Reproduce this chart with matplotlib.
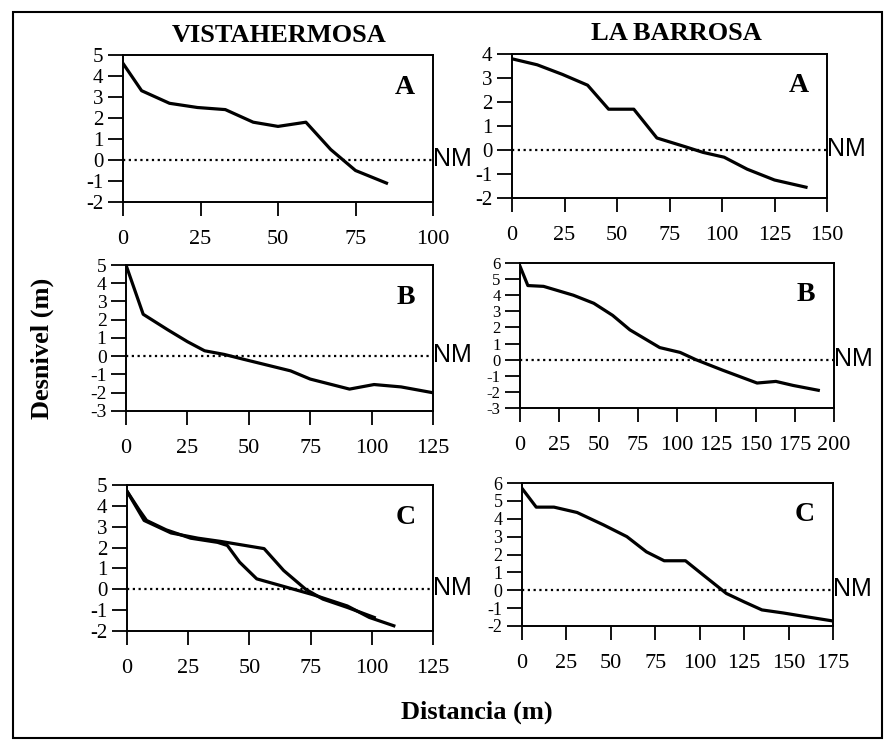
import numpy as np
import matplotlib.pyplot as plt
from matplotlib.patches import Rectangle

# Perfiles de playa: Vistahermosa (izq.) y La Barrosa (der.)

# Vistahermosa A
va_x = [0, 6, 15, 24, 33, 42, 50, 59, 67, 75, 85]
va_y = [4.6, 3.3, 2.7, 2.5, 2.4, 1.8, 1.6, 1.8, 0.5, -0.5, -1.1]

# La Barrosa A
la_x = [0, 12, 24, 36, 46, 58, 69, 82, 91, 101, 112, 125, 140]
la_y = [3.8, 3.55, 3.15, 2.7, 1.7, 1.7, 0.5, 0.15, -0.1, -0.3, -0.8, -1.25, -1.55]

# Vistahermosa B
vb_x = [0, 7, 17, 25, 32, 40, 48, 67, 75, 91, 101, 112, 125]
vb_y = [5.0, 2.3, 1.45, 0.8, 0.3, 0.1, -0.17, -0.8, -1.25, -1.8, -1.55, -1.68, -2.0]

# La Barrosa B
lb_x = [0, 5, 15, 34, 47, 59, 70, 89, 102, 112, 129, 151, 163, 174, 190]
lb_y = [5.8, 4.6, 4.55, 4.0, 3.5, 2.75, 1.85, 0.75, 0.45, 0.0, -0.65, -1.45, -1.35, -1.6, -1.9]

# Vistahermosa C (dos perfiles)
vc1_x = [0, 5, 8, 16, 26, 37, 41, 46, 53, 63, 76, 90, 99, 109]
vc1_y = [4.7, 3.8, 3.3, 2.85, 2.45, 2.25, 2.1, 1.3, 0.5, 0.17, -0.26, -0.8, -1.35, -1.75]
vc2_x = [0, 7, 18, 29, 38, 56, 64, 73, 80, 90, 101]
vc2_y = [4.7, 3.3, 2.7, 2.45, 2.3, 1.95, 0.9, 0.0, -0.47, -0.87, -1.35]

# La Barrosa C
lc_x = [0, 8, 18, 31, 46, 59, 70, 80, 92, 102, 115, 125, 135, 147, 158, 175]
lc_y = [5.7, 4.65, 4.65, 4.35, 3.65, 3.0, 2.15, 1.65, 1.65, 0.85, -0.18, -0.65, -1.1, -1.27, -1.45, -1.72]

W, H = 890, 743
serif = 'Liberation Serif'
plt.rcParams['axes.unicode_minus'] = False

fig = plt.figure(figsize=(W / 100, H / 100), dpi=100)

def panel(box, xs, ys, xmax, xstep, ymin, ymax, letter, ysize=15):
    l, t, r, b = box
    ax = fig.add_axes([l / W, 1 - b / H, (r - l) / W, (b - t) / H])
    for x, y in zip(xs, ys):
        ax.plot(x, y, color='black', lw=2.3, solid_joinstyle='round')
    ax.plot([0, xmax], [0, 0], color='black', lw=1.6, linestyle=(0, (1, 1.6)))
    ax.set_xlim(0, xmax)
    ax.set_ylim(ymin, ymax)
    ax.set_xticks(np.arange(0, xmax + 1, xstep))
    ax.set_yticks(np.arange(ymin, ymax + 1, 1))
    ax.tick_params(axis='x', direction='out', length=10, width=1.3, pad=10,
                   labelsize=16)
    ax.tick_params(axis='y', direction='out', length=11, width=1.3, pad=3,
                   labelsize=ysize)
    for lab in ax.get_xticklabels() + ax.get_yticklabels():
        lab.set_family(serif)
    for s in ax.spines.values():
        s.set_linewidth(1.4)
    ax.text(0.91, 0.78, letter, transform=ax.transAxes, ha='center', va='center',
            fontsize=20, fontweight='bold', family=serif)
    ax.text(xmax, 0.05, 'NM', ha='left', va='center', fontsize=18,
            family='Liberation Sans', clip_on=False)
    return ax

panel((123, 55, 433, 202), [va_x], [va_y], 100, 25, -2, 5, 'A')
panel((512, 54, 827, 198), [la_x], [la_y], 150, 25, -2, 4, 'A')
panel((126, 265, 433, 411), [vb_x], [vb_y], 125, 25, -3, 5, 'B', ysize=14)
panel((520, 263, 834, 408), [lb_x], [lb_y], 200, 25, -3, 6, 'B', ysize=12)
panel((127, 485, 433, 631), [vc1_x, vc2_x], [vc1_y, vc2_y], 125, 25, -2, 5, 'C')
panel((522, 483, 833, 626), [lc_x], [lc_y], 175, 25, -2, 6, 'C', ysize=13)

# titulos y ejes comunes
fig.text(279 / W, 1 - 35 / H, 'VISTAHERMOSA', ha='center', va='center',
         fontsize=19, fontweight='bold', family=serif)
fig.text(676 / W, 1 - 33 / H, 'LA BARROSA', ha='center', va='center',
         fontsize=19, fontweight='bold', family=serif)
fig.text(42 / W, 1 - 348 / H, 'Desnivel (m)', ha='center', va='center',
         rotation=90, fontsize=19, fontweight='bold', family=serif)
fig.text(477 / W, 1 - 712 / H, 'Distancia (m)', ha='center', va='center',
         fontsize=19, fontweight='bold', family=serif)

# marco exterior
fig.patches.append(Rectangle((13 / W, 1 - 738 / H), 869 / W, 726 / H,
                             transform=fig.transFigure, fill=False,
                             edgecolor='black', lw=1.5))

plt.savefig('out.png', dpi=100)
